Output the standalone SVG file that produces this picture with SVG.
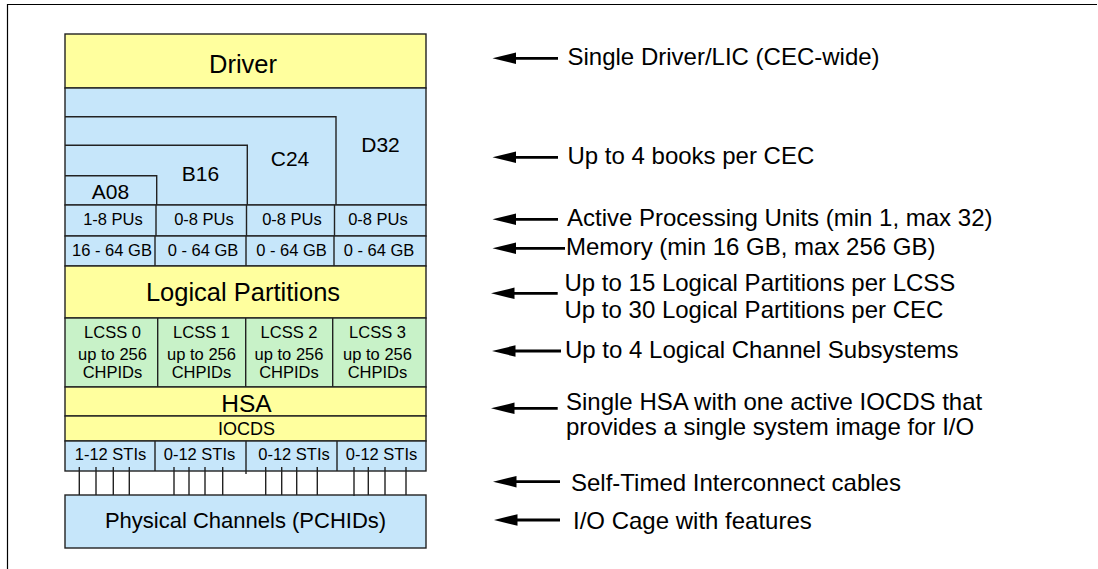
<svg xmlns="http://www.w3.org/2000/svg" width="1098" height="569" viewBox="0 0 1098 569">
<defs>
<style>
text{font-family:"Liberation Sans",Arial,sans-serif;fill:#000}
.box{stroke:#222;stroke-width:1.4}
.blue{fill:#C6E6FA}
.yel{fill:#FFFF9E}
.grn{fill:#C8F2C8}
.div{stroke:#222;stroke-width:1.4;fill:none}
.s{font-size:16.5px;text-anchor:middle}
.bk{font-size:21px;text-anchor:middle}
.r{font-size:24px}
.arr{stroke:#000;stroke-width:2.8;fill:none}
.head{fill:#000}
.cab{stroke:#222;stroke-width:1.4}
</style>
</defs>
<rect width="1098" height="569" fill="#fff"/>
<path d="M7.5,569 V4.5 H1097" fill="none" stroke="#000" stroke-width="1.2"/>

<g id="driver">
<rect class="box yel" x="65" y="34" width="361" height="54"/>
<text x="243" y="73" style="font-size:25.5px;text-anchor:middle">Driver</text>
</g>

<g id="books">
<rect class="box blue" x="65" y="88" width="361" height="117"/>
<path class="div" d="M65,116.7 H336 V205 M65,145.3 H247.3 V205 M65,175.7 H156.7 V205"/>
<text class="bk" x="380.5" y="152">D32</text>
<text class="bk" x="290" y="166">C24</text>
<text class="bk" x="200.5" y="180.5">B16</text>
<text class="bk" x="110.5" y="199">A08</text>
</g>

<g id="pus">
<rect class="box blue" x="65" y="205" width="361" height="31"/>
<path class="div" d="M156,205 V236 M246.5,205 V236 M334.5,205 V236"/>
<text class="s" x="113" y="224.5">1-8 PUs</text>
<text class="s" x="204" y="224.5">0-8 PUs</text>
<text class="s" x="292" y="224.5">0-8 PUs</text>
<text class="s" x="378" y="224.5">0-8 PUs</text>
</g>

<g id="memory">
<rect class="box blue" x="65" y="236" width="361" height="30"/>
<path class="div" d="M155,236 V266 M246,236 V266 M334,236 V266"/>
<text class="s" x="112" y="256">16 - 64 GB</text>
<text class="s" x="203" y="256">0 - 64 GB</text>
<text class="s" x="291.5" y="256">0 - 64 GB</text>
<text class="s" x="379" y="256">0 - 64 GB</text>
</g>

<g id="partitions">
<rect class="box yel" x="65" y="266" width="361" height="52"/>
<text x="243" y="300.5" style="font-size:25.5px;text-anchor:middle">Logical Partitions</text>
</g>

<g id="lcss">
<rect class="box grn" x="65" y="318" width="361" height="69"/>
<path class="div" d="M157.7,318 V387 M245.7,318 V387 M332.7,318 V387"/>
<text class="s" x="112.5" y="338">LCSS 0</text>
<text class="s" x="112.5" y="360">up to 256</text>
<text class="s" x="112.5" y="378">CHPIDs</text>
<text class="s" x="201.5" y="338">LCSS 1</text>
<text class="s" x="201.5" y="360">up to 256</text>
<text class="s" x="201.5" y="378">CHPIDs</text>
<text class="s" x="289" y="338">LCSS 2</text>
<text class="s" x="289" y="360">up to 256</text>
<text class="s" x="289" y="378">CHPIDs</text>
<text class="s" x="377.5" y="338">LCSS 3</text>
<text class="s" x="377.5" y="360">up to 256</text>
<text class="s" x="377.5" y="378">CHPIDs</text>
</g>

<g id="hsa">
<rect class="box yel" x="65" y="387" width="361" height="29"/>
<text x="246.5" y="412" style="font-size:24.5px;text-anchor:middle">HSA</text>
</g>

<g id="iocds">
<rect class="box yel" x="65" y="416" width="361" height="25"/>
<text x="246.5" y="435.3" style="font-size:18px;text-anchor:middle">IOCDS</text>
</g>

<g id="stis">
<rect class="box blue" x="65" y="441" width="361" height="30"/>
<path class="div" d="M155,441 V471 M246,441 V474 M337,441 V471"/>
<text class="s" x="110.5" y="459.5">1-12 STIs</text>
<text class="s" x="199.5" y="459.5">0-12 STIs</text>
<text class="s" x="294" y="459.5">0-12 STIs</text>
<text class="s" x="381.5" y="459.5">0-12 STIs</text>
</g>

<g id="pchids">
<rect class="box blue" x="65" y="495" width="361" height="53"/>
<text x="245.5" y="528" style="font-size:22px;text-anchor:middle">Physical Channels (PCHIDs)</text>
</g>

<g id="connectors">
<path class="cab" d="M79.3,467 V495 M96,467 V495 M113.3,467 V495 M129.3,467 V495 M174,467 V495 M189,467 V495 M205,467 V495 M222.7,467 V495 M265.7,467 V495 M281.7,467 V495 M296.7,467 V495 M317.3,467 V495 M354,467 V496 M368.3,467 V495 M385,467 V495 M406,467 V495"/>
<path class="arr" d="M512,58.3 H558"/><path class="head" d="M492.5,58.3 L516,52.6 L516,64 Z"/>
<path class="arr" d="M512,157.3 H558"/><path class="head" d="M492.5,157.3 L516,151.6 L516,163 Z"/>
<path class="arr" d="M512,219.3 H558"/><path class="head" d="M492.5,219.3 L516,213.6 L516,225 Z"/>
<path class="arr" d="M512,248.3 H565"/><path class="head" d="M492.5,248.3 L516,242.6 L516,254 Z"/>
<path class="arr" d="M510,293.3 H557.7"/><path class="head" d="M491,293.3 L514.5,287.6 L514.5,299 Z"/>
<path class="arr" d="M512,351 H561"/><path class="head" d="M492,351 L515.5,345.3 L515.5,356.7 Z"/>
<path class="arr" d="M510,408.3 H557.7"/><path class="head" d="M491,408.3 L514.5,402.6 L514.5,414 Z"/>
<path class="arr" d="M512,481.7 H560"/><path class="head" d="M493,481.7 L516.5,476 L516.5,487.4 Z"/>
<path class="arr" d="M513,520 H560"/><path class="head" d="M494,520 L517.5,514.3 L517.5,525.7 Z"/>
</g>

<g id="notes">
<text class="r" x="567.5" y="65">Single Driver/LIC (CEC-wide)</text>
<text class="r" x="567.5" y="164">Up to 4 books per CEC</text>
<text class="r" x="567" y="225.5">Active Processing Units (min 1, max 32)</text>
<text class="r" x="566" y="255">Memory (min 16 GB, max 256 GB)</text>
<text class="r" x="564.5" y="291">Up to 15 Logical Partitions per LCSS</text>
<text class="r" x="564.5" y="317.7">Up to 30 Logical Partitions per CEC</text>
<text class="r" x="565" y="358.3">Up to 4 Logical Channel Subsystems</text>
<text class="r" x="566" y="410">Single HSA with one active IOCDS that</text>
<text class="r" x="566" y="435">provides a single system image for I/O</text>
<text class="r" x="571" y="491">Self-Timed Interconnect cables</text>
<text class="r" x="573" y="529.3">I/O Cage with features</text>
</g>
</svg>
